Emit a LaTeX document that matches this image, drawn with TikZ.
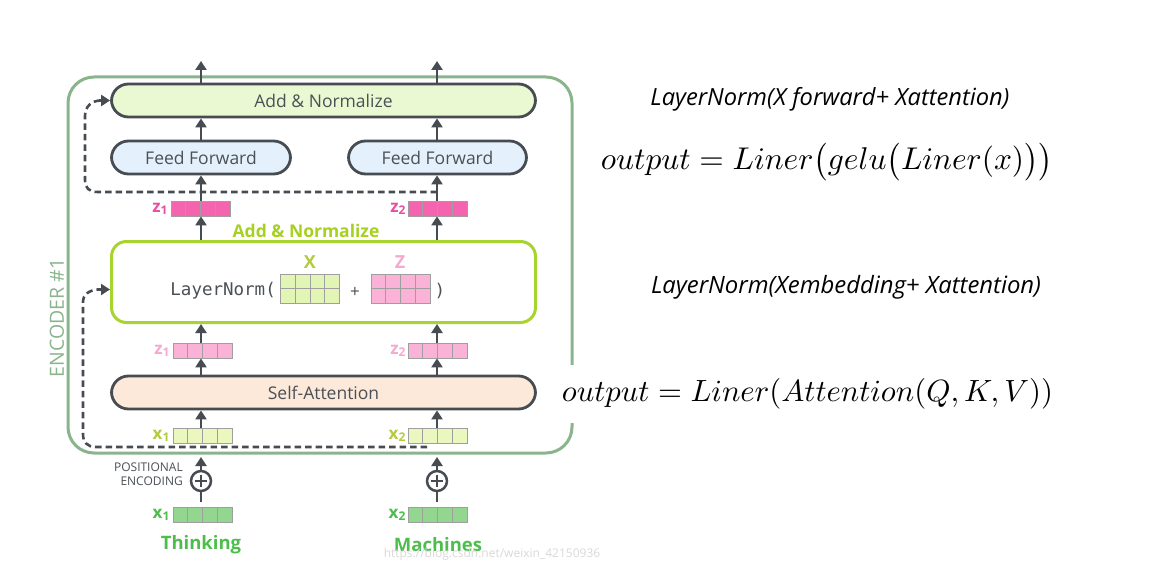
\documentclass[tikz,border=0pt]{standalone}
\usepackage[no-math]{fontspec}
\setmainfont{Open Sans}
\setmonofont{DejaVu Sans Mono}
\usetikzlibrary{arrows.meta,calc}
\definecolor{dkgray}{HTML}{464C52}
\definecolor{txtgray}{HTML}{4B5056}
\definecolor{encgreen}{HTML}{8AB48C}
\definecolor{lime}{HTML}{A8D430}
\definecolor{limetext}{HTML}{A6D11F}
\definecolor{addfill}{HTML}{EBF9D3}
\definecolor{fffill}{HTML}{E4F1FC}
\definecolor{safill}{HTML}{FCE9D9}
\definecolor{zdark}{HTML}{F564AE}
\definecolor{zdarklab}{HTML}{E8509E}
\definecolor{zlight}{HTML}{FAB3D7}
\definecolor{zlightlab}{HTML}{F7A8CE}
\definecolor{xin}{HTML}{EAF7BF}
\definecolor{xmat}{HTML}{E3F5B4}
\definecolor{xinlab}{HTML}{B4CB3D}
\definecolor{xbot}{HTML}{93D690}
\definecolor{xbotlab}{HTML}{4DBE4D}
\definecolor{wmark}{HTML}{D9D9D9}
\tikzset{
  pill/.style={draw=dkgray, line width=2.8pt, rounded corners=17pt, minimum height=33pt,
    inner sep=0pt, font=\fontsize{17.5}{20}\selectfont, text=txtgray},
  arr/.style={draw=dkgray, line width=2.6pt, -{Triangle[width=11pt,length=9pt]}},
  plainline/.style={draw=dkgray, line width=2.6pt},
  dsh/.style={draw=dkgray, line width=2.6pt, dash pattern=on 6.5pt off 4pt},
  vecbox/.style={draw=gray!75, line width=0.8pt, minimum width=59pt, minimum height=15pt, inner sep=0pt,
    path picture={
      \foreach \i in {1,2,3}{
        \draw[gray!75, line width=0.8pt]
          ($(path picture bounding box.south west)!\i/4!(path picture bounding box.south east)$) --
          ($(path picture bounding box.north west)!\i/4!(path picture bounding box.north east)$);
      }}},
  matbox/.style={vecbox, minimum height=29pt},
  lab/.style={font=\fontsize{17}{17}\selectfont\bfseries, inner sep=0pt, anchor=east},
  plus/.style={circle, draw=dkgray, line width=2.5pt, minimum size=20pt, inner sep=0pt,
    path picture={
      \draw[dkgray, line width=2.5pt] ($(path picture bounding box.center)+(-6,0)$) -- ($(path picture bounding box.center)+(6,0)$);
      \draw[dkgray, line width=2.5pt] ($(path picture bounding box.center)+(0,-6)$) -- ($(path picture bounding box.center)+(0,6)$);
    }},
}
\newcommand{\vlab}[2]{#1{\fontsize{12}{12}\selectfont\raisebox{-2pt}{#2}}}
\begin{document}
\begin{tikzpicture}[x=1pt,y=-1pt]
\useasboundingbox (0,0) rectangle (1152,567);
\fill[white] (0,0) rectangle (1152,567);

% column coordinates
\coordinate (c1) at (201,0);
\coordinate (c2) at (437,0);

% encoder frame
\draw[encgreen, line width=3pt, rounded corners=26pt] (68,77) rectangle (572,453);
\node[rotate=90, text=encgreen, font=\fontsize{19.5}{20}\selectfont] (enc) at (57,318) {ENCODER \#1};

% top add & normalize
\node[pill, fill=addfill, minimum width=424pt] (an2) at (323.5,100.5) {Add \& Normalize};
\node[pill, fill=fffill, minimum width=179pt] (ff1) at (201,157.5) {Feed Forward};
\node[pill, fill=fffill, minimum width=178pt] (ff2) at (437.5,157.5) {Feed Forward};

% z dark vectors
\node[vecbox, fill=zdark] (z1d) at (200.5,208.5) {};
\node[vecbox, fill=zdark] (z2d) at (437.5,208.5) {};
\node[lab, text=zdarklab] (z1dl) at ($(z1d.west)+(-3,0)$) {\vlab{z}{1}};
\node[lab, text=zdarklab] (z2dl) at ($(z2d.west)+(-2,0)$) {\vlab{z}{2}};

% green label
\node[text=limetext, font=\fontsize{17.5}{17}\selectfont\bfseries] (anl) at (306,231) {Add \& Normalize};

% layer norm box
\node[draw=lime, line width=3pt, rounded corners=15pt, fill=white, minimum width=424pt, minimum height=81pt] (ln) at (323.5,282) {};
\node[font=\fontsize{17.5}{18}\ttfamily, text=txtgray, anchor=east, inner sep=0pt] (lnt) at (276,291) {LayerNorm(};
\node[vecbox, matbox, fill=xmat] (mx) at (310,288.5) {};
\draw[gray!75, line width=0.8pt] (mx.west) -- (mx.east);
\node[font=\fontsize{17}{17}\selectfont, text=txtgray] (pl) at (355,292) {+};
\node[vecbox, matbox, fill=zlight] (mz) at (400.5,288.5) {};
\draw[gray!75, line width=0.8pt] (mz.west) -- (mz.east);
\node[font=\fontsize{17.5}{18}\ttfamily, text=txtgray] (rp) at (440,291) {)};
\node[font=\fontsize{18}{18}\selectfont\bfseries, text=xinlab] (xl) at (310,262) {X};
\node[font=\fontsize{18}{18}\selectfont\bfseries, text=zlightlab] (zl) at (400,262) {Z};

% z light vectors
\node[vecbox, fill=zlight] (z1l) at (202.5,350.5) {};
\node[vecbox, fill=zlight] (z2l) at (437.5,350.5) {};
\node[lab, text=zlightlab] (z1ll) at ($(z1l.west)+(-3,0)$) {\vlab{z}{1}};
\node[lab, text=zlightlab] (z2ll) at ($(z2l.west)+(-2,0)$) {\vlab{z}{2}};

% self attention
\node[pill, fill=safill, minimum width=424pt] (sa) at (323.5,392.5) {Self-Attention};

% x inner vectors
\node[vecbox, fill=xin] (x1i) at (202.5,435.5) {};
\node[vecbox, fill=xin] (x2i) at (437.5,435.5) {};
\node[lab, text=xinlab] (x1il) at ($(x1i.west)+(-3,0)$) {\vlab{x}{1}};
\node[lab, text=xinlab] (x2il) at ($(x2i.west)+(-2,0)$) {\vlab{x}{2}};

% bottom
\node[vecbox, fill=xbot] (x1b) at (202.5,514.5) {};
\node[vecbox, fill=xbot] (x2b) at (437.5,514.5) {};
\node[lab, text=xbotlab] (x1bl) at ($(x1b.west)+(-3,0)$) {\vlab{x}{1}};
\node[lab, text=xbotlab] (x2bl) at ($(x2b.west)+(-2,0)$) {\vlab{x}{2}};
\node[plus] (pe1) at (201,481) {};
\node[plus] (pe2) at (437,481) {};
\node[align=right, anchor=east, text=txtgray, font=\fontsize{12}{13.5}\selectfont, inner sep=0pt] (pet) at (183,474) {POSITIONAL\\ENCODING};
\node[text=xbotlab, font=\fontsize{18.5}{18}\selectfont\bfseries] (w1) at (201,545) {Thinking};
\node[text=xbotlab, font=\fontsize{18.5}{18}\selectfont\bfseries] (w2) at (438,545) {Machines};
\node[text=wmark, font=\fontsize{12}{12}\selectfont] (wm) at (492,554) {https://blog.csdn.net/weixin\_42150936};

% coordinates
\coordinate (o1) at (201,61);
\coordinate (o2) at (437,61);
\coordinate (p1) at (201,457);
\coordinate (p2) at (437,457);
\coordinate (d1s) at (437,192);
\coordinate (d2s) at (427,447);

% arrows
\draw[arr] (c1 |- an2.north) -- (o1);
\draw[arr] (c2 |- an2.north) -- (o2);
\draw[arr] (c1 |- ff1.north) -- (c1 |- an2.south);
\draw[arr] (c2 |- ff2.north) -- (c2 |- an2.south);
\draw[arr] (c1 |- z1d.north) -- (c1 |- ff1.south);
\draw[arr] (c2 |- z2d.north) -- (c2 |- ff2.south);
\draw[arr] (c1 |- ln.north) -- (c1 |- z1d.south);
\draw[arr] (c2 |- ln.north) -- (c2 |- z2d.south);
\draw[arr] (c1 |- z1l.north) -- (c1 |- ln.south);
\draw[arr] (c2 |- z2l.north) -- (c2 |- ln.south);
\draw[arr] (c1 |- sa.north) -- (c1 |- z1l.south);
\draw[arr] (c2 |- sa.north) -- (c2 |- z2l.south);
\draw[arr] (c1 |- x1i.north) -- (c1 |- sa.south);
\draw[arr] (c2 |- x2i.north) -- (c2 |- sa.south);
\draw[arr] (pe1.north) -- (p1);
\draw[arr] (pe2.north) -- (p2);
\draw[plainline, shorten <=5pt] (c1 |- x1b.north) -- (pe1.south);
\draw[plainline, shorten <=5pt] (c2 |- x2b.north) -- (pe2.south);

% residual dashed lines
\draw[dsh] (d1s) -- (98,192) .. controls (89,192) and (85,188) .. (85,180) -- (85,116)
  .. controls (85,106) and (92,101) .. (100,100.5);
\draw[arr] (99,100.5) -- (an2.west);
\draw[dsh] (d2s) -- (96,447) .. controls (87,447) and (83,442) .. (83,434) -- (83,302)
  .. controls (83,294) and (90,290) .. (98,289.5);
\draw[arr] (97,289.5) -- ($(ln.west)+(0,7.5)$);

% right-hand formulas
\node[inner sep=0pt] (f1) at (830,99) {\resizebox{359pt}{!}{\itshape\fontsize{20}{20}\selectfont LayerNorm(X forward+ Xattention)}};
\node[inner sep=0pt] (f2) at (827,162) {\resizebox{452pt}{!}{$output=Liner\bigl(gelu\bigl(Liner(x)\bigr)\bigr)$}};
\node[inner sep=0pt] (f3) at (846,287) {\resizebox{390pt}{!}{\itshape\fontsize{20}{20}\selectfont LayerNorm(Xembedding+ Xattention)}};
\node[fill=white, inner xsep=2pt, inner ysep=14pt] (f4) at (807.5,394) {\resizebox{491pt}{!}{$output=Liner(Attention(Q,K,V))$}};
\end{tikzpicture}
\end{document}
